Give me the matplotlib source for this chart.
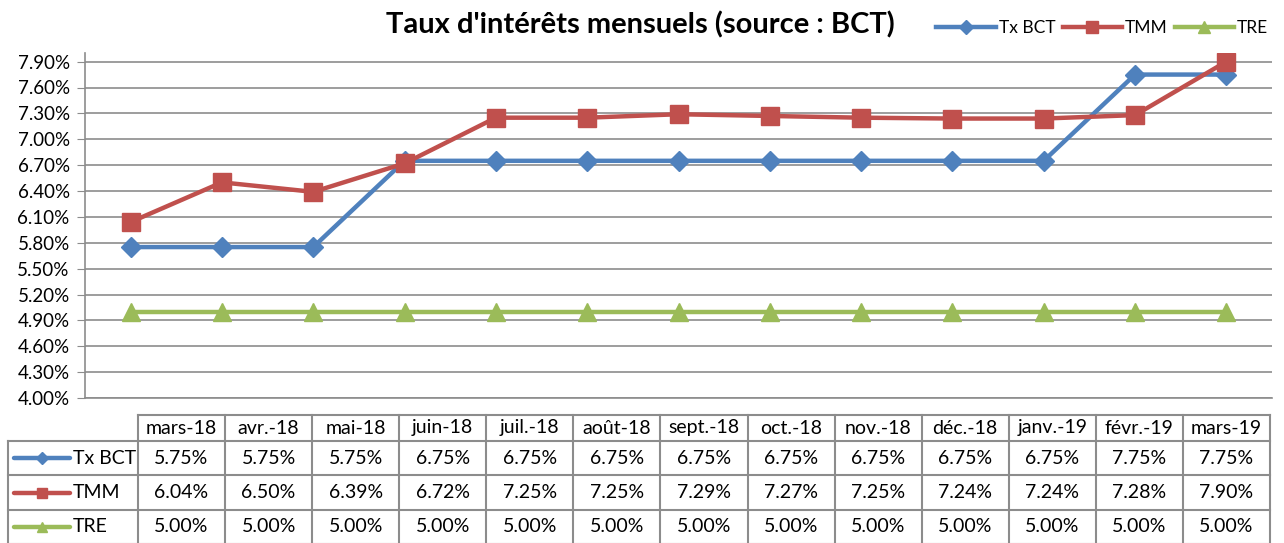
import matplotlib.pyplot as plt
import numpy as np
from matplotlib.lines import Line2D

plt.rcParams['font.family'] = ['Lato', 'DejaVu Sans']

mois = ['mars-18', 'avr.-18', 'mai-18', 'juin-18', 'juil.-18', 'août-18', 'sept.-18',
        'oct.-18', 'nov.-18', 'déc.-18', 'janv.-19', 'févr.-19', 'mars-19']
tx_bct = [5.75, 5.75, 5.75, 6.75, 6.75, 6.75, 6.75, 6.75, 6.75, 6.75, 6.75, 7.75, 7.75]
tmm = [6.04, 6.50, 6.39, 6.72, 7.25, 7.25, 7.29, 7.27, 7.25, 7.24, 7.24, 7.28, 7.90]
tre = [5.00] * 13
y_ticks = [4.00, 4.30, 4.60, 4.90, 5.20, 5.50, 5.80, 6.10, 6.40, 6.70, 7.00, 7.30, 7.60, 7.90]

series = [
    ('Tx BCT', tx_bct, '#4F81BD', 'D', 10),
    ('TMM', tmm, '#C0504D', 's', 13),
    ('TRE', tre, '#9BBB59', '^', 13),
]

W, H = 1284, 543
fig = plt.figure(figsize=(W / 100, H / 100), dpi=100)
ax = fig.add_axes([85 / W, 1 - 398 / H, (1272 - 85) / W, (398 - 53) / H])

x = np.arange(len(mois))
for name, vals, col, mk, ms in series:
    ax.plot(x, vals, color=col, lw=3.2, marker=mk, markersize=ms, label=name, zorder=3)

ax.set_xlim(-0.5, len(mois) - 0.5)
ax.set_ylim(4.0, 8.0)
ax.set_yticks(y_ticks)
ax.set_yticklabels(['%.2f%%' % v for v in y_ticks], fontsize=13.5)
ax.set_xticks([])
ax.grid(axis='y', color='#8C8C8C', lw=1.2)
ax.set_axisbelow(True)
for s in ['top', 'right']:
    ax.spines[s].set_visible(False)
for s in ['left', 'bottom']:
    ax.spines[s].set_color('#8C8C8C')
    ax.spines[s].set_linewidth(1.2)
ax.tick_params(axis='y', length=6, color='#8C8C8C', pad=5)

fig.text(640 / W, 1 - 25 / H, "Taux d'intérêts mensuels (source : BCT)",
         ha='center', va='center', fontsize=21, fontweight='bold')

handles = [Line2D([], [], color=c, lw=3.2, marker=m, markersize=ms * 0.7) for _, _, c, m, ms in series]
fig.legend(handles, [s[0] for s in series], loc='center right', bbox_to_anchor=(1.0, 1 - 28 / H),
           ncol=3, frameon=False, fontsize=12.5, handlelength=3.4, columnspacing=0.4, handletextpad=0.2)

# table below the chart (pixel coordinates)
tax = fig.add_axes([0, 0, 1, 1 - 400 / H])
tax.set_xlim(0, W)
tax.set_ylim(H, 400)
tax.axis('off')
gc = '#8C8C8C'
x0, x1, xr = 8, 138, 1270
cw = (xr - x1) / len(mois)
rows = [415, 441, 475, 510, 544]
# horizontal borders
tax.plot([x1, xr], [rows[0], rows[0]], color=gc, lw=1.5)
for yy in rows[1:]:
    tax.plot([x0, xr], [yy, yy], color=gc, lw=1.5)
# vertical borders
tax.plot([x0, x0], [rows[1], rows[-1]], color=gc, lw=1.5)
for i in range(len(mois) + 1):
    xx = x1 + i * cw
    tax.plot([xx, xx], [rows[0], rows[-1]], color=gc, lw=1.5)
for i, m in enumerate(mois):
    tax.text(x1 + (i + 0.5) * cw, (rows[0] + rows[1]) / 2, m, ha='center', va='center', fontsize=14)
for r, (name, vals, col, mk, ms) in enumerate(series):
    yc = (rows[r + 1] + rows[r + 2]) / 2
    tax.plot([14, 70], [yc, yc], color=col, lw=3.2, solid_capstyle='round')
    tax.plot([42], [yc], color=col, marker=mk, markersize=ms * 0.6)
    tax.text(73, yc, name, ha='left', va='center', fontsize=14)
    for i, v in enumerate(vals):
        tax.text(x1 + (i + 0.5) * cw, yc, '%.2f%%' % v, ha='center', va='center', fontsize=14)

fig.savefig('out.png', dpi=100)
